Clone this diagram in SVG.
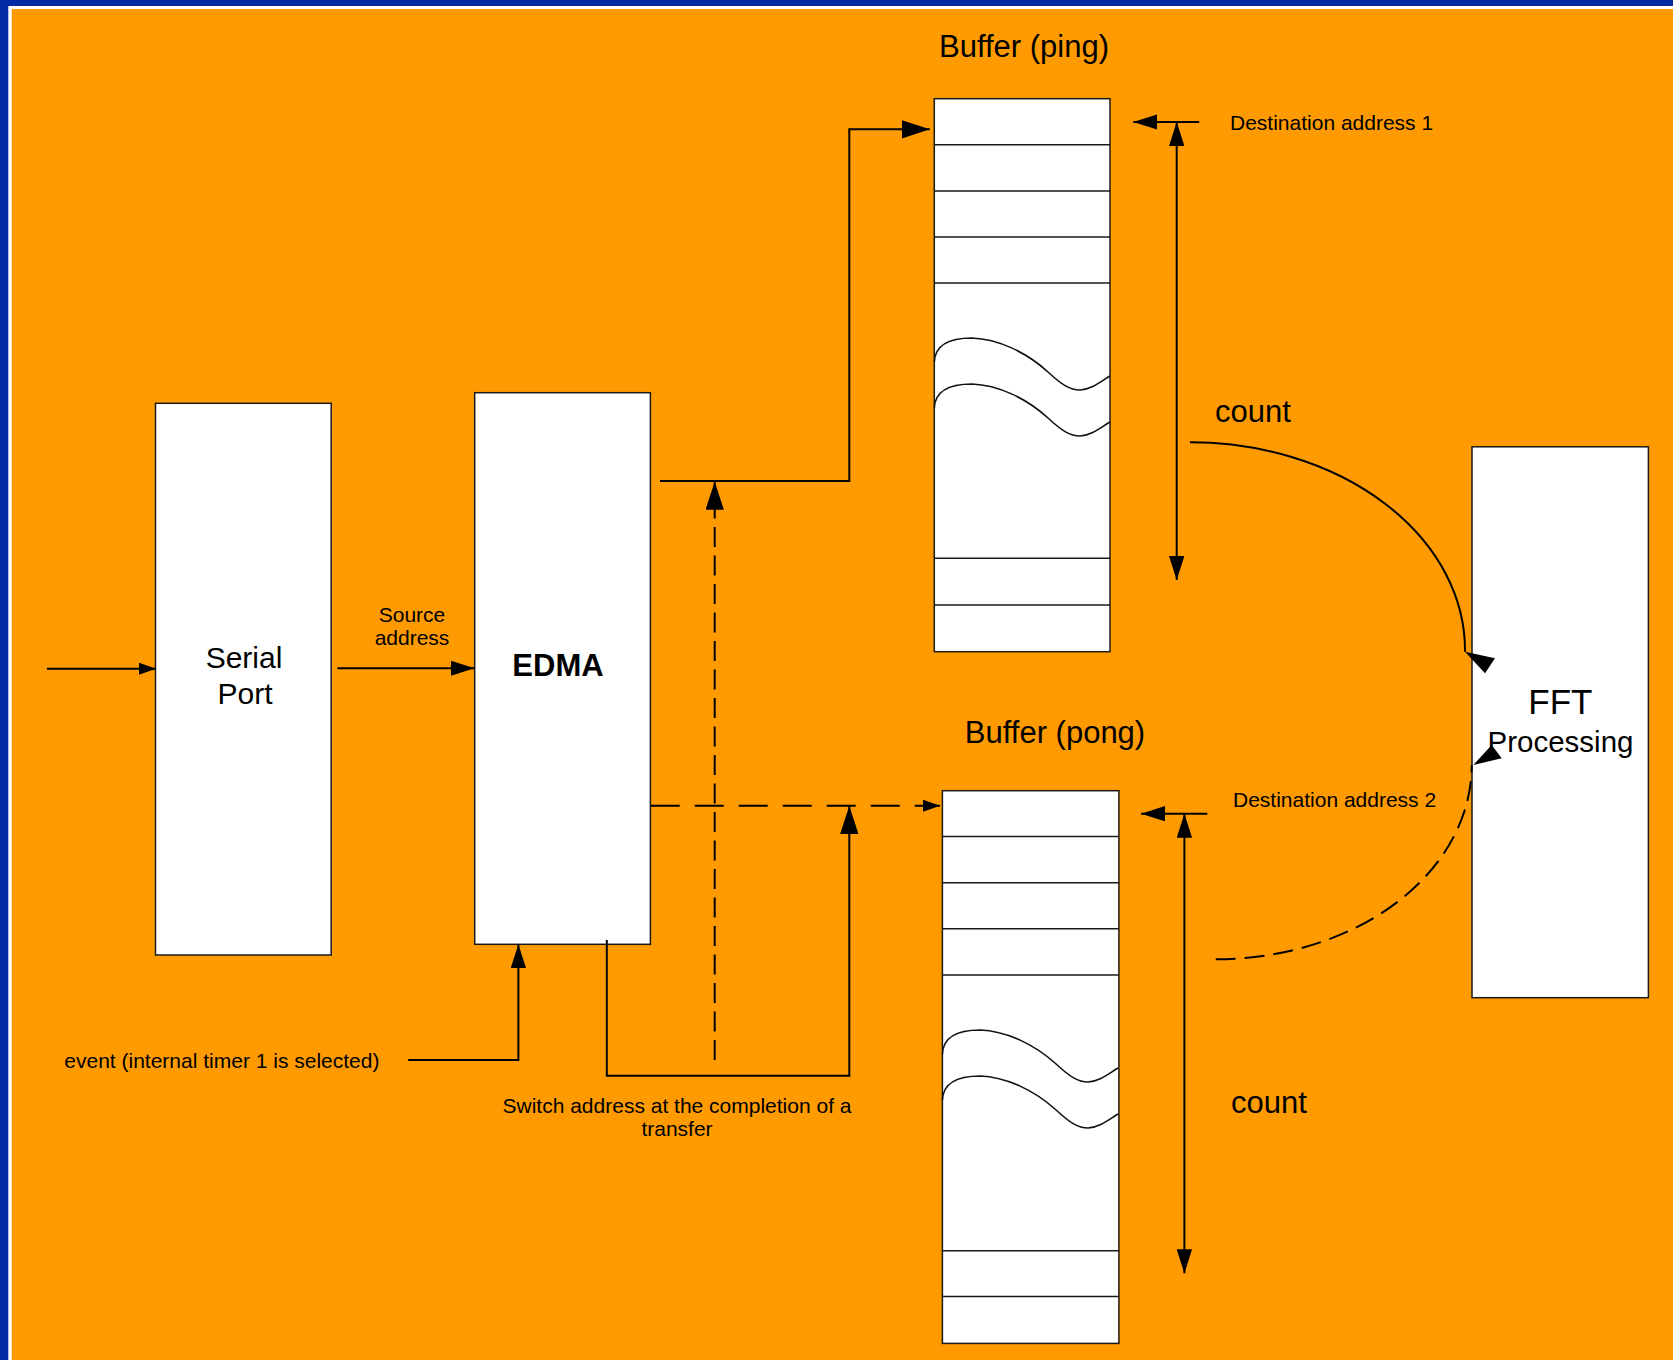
<svg xmlns="http://www.w3.org/2000/svg" width="1673" height="1360" viewBox="0 0 1673 1360">
<style>
.box{fill:#fff;stroke:#1a1a1a;stroke-width:1.5}
.row{stroke:#1a1a1a;stroke-width:1.5;fill:none}
.wave{stroke:#111;stroke-width:1.6;fill:none}
.ln{stroke:#000;stroke-width:2;fill:none}
.dh{stroke:#000;stroke-width:2;fill:none;stroke-dasharray:29 15}
.dv{stroke:#000;stroke-width:2;fill:none;stroke-dasharray:20 8.5}
.dc{stroke:#000;stroke-width:2;fill:none;stroke-dasharray:20 9}
.t{font-family:"Liberation Sans",Arial,sans-serif;fill:#000}
.s21{font-size:21px}
.s30{font-size:30px}
.s31{font-size:31px}
.head{fill:#000;stroke:none}
</style>
<defs>
<marker id="arrS" markerUnits="userSpaceOnUse" markerWidth="17" markerHeight="12" refX="17" refY="6" orient="auto" viewBox="0 0 17 12"><path d="M0,0 L17,6 L0,12 z" fill="#000"/></marker>
<marker id="arrM" markerUnits="userSpaceOnUse" markerWidth="24" markerHeight="15.4" refX="24" refY="7.7" orient="auto-start-reverse" viewBox="0 0 24 15.4"><path d="M0,0 L24,7.7 L0,15.4 z" fill="#000"/></marker>
<marker id="arrL" markerUnits="userSpaceOnUse" markerWidth="28" markerHeight="18.4" refX="28" refY="9.2" orient="auto" viewBox="0 0 28 18.4"><path d="M0,0 L28,9.2 L0,18.4 z" fill="#000"/></marker>
<g id="waves">
<path class="wave" d="M934.3,362 C935,346 948,338 972,338 C998,339 1026,352 1048,372 C1062,385 1070,390 1080,390 C1092,389 1100,382 1110,376"/>
<path class="wave" d="M934.3,408 C935,392 948,384 972,384 C998,385 1026,398 1048,418 C1062,431 1070,436 1080,436 C1092,435 1100,428 1110,422"/>
</g>
</defs>

<g id="background">
<rect x="0" y="0" width="1673" height="1360" fill="#032BA6"/>
<rect x="8.3" y="6" width="1665" height="1354" fill="#ffffff"/>
<rect x="11.7" y="9" width="1662" height="1351" fill="#FF9B00"/>
</g>

<g id="serial-port">
<rect class="box" x="155.5" y="403.3" width="175.7" height="551.7"/>
<text class="t s30" x="244" y="668" text-anchor="middle">Serial</text>
<text class="t s30" x="245" y="704" text-anchor="middle">Port</text>
</g>

<g id="edma">
<rect class="box" x="474.7" y="392.7" width="175.7" height="551.6"/>
<text class="t s31" x="558" y="676" text-anchor="middle" font-weight="bold">EDMA</text>
</g>

<g id="fft">
<rect class="box" x="1472" y="446.8" width="176.4" height="550.9"/>
<text class="t" font-size="35" x="1560.4" y="714" text-anchor="middle">FFT</text>
<text class="t" font-size="29.5" x="1560.5" y="751.7" text-anchor="middle">Processing</text>
</g>

<g id="buffer-ping">
<text class="t s31" x="1024" y="57.3" text-anchor="middle">Buffer (ping)</text>
<rect class="box" x="934.3" y="98.7" width="175.7" height="553"/>
<path class="row" d="M934.3,144.7 H1110 M934.3,191 H1110 M934.3,237 H1110 M934.3,283 H1110 M934.3,558.3 H1110 M934.3,605 H1110"/>
<use href="#waves"/>
</g>

<g id="buffer-pong">
<text class="t s31" x="1055" y="743.3" text-anchor="middle">Buffer (pong)</text>
<rect class="box" x="942.4" y="790.7" width="176.5" height="552.7"/>
<path class="row" d="M942.4,836.5 H1118.9 M942.4,882.8 H1118.9 M942.4,928.8 H1118.9 M942.4,975 H1118.9 M942.4,1250.8 H1118.9 M942.4,1296.6 H1118.9"/>
<use href="#waves" transform="translate(8.1,692)"/>
</g>

<g id="connectors">
<path class="ln" d="M46.9,668.7 H156" marker-end="url(#arrS)"/>
<path class="ln" d="M337.5,668.3 H474.6" marker-end="url(#arrM)"/>
<path class="ln" d="M660,481 H849.3 V129.3 H929.8" marker-end="url(#arrL)"/>
<path class="dv" d="M714.7,1060 V481.7" marker-end="url(#arrL)"/>
<path class="dh" d="M650.7,805.7 H940" marker-end="url(#arrS)"/>
<path class="ln" d="M606.8,940 V1075.7 H849.3 V806" marker-end="url(#arrL)"/>
<path class="ln" d="M408.2,1060 H518.4 V944.3" marker-end="url(#arrM)"/>
<path class="ln" d="M1199.2,122 H1133.3" marker-end="url(#arrM)"/>
<path class="ln" d="M1176.7,580 V122" marker-start="url(#arrM)" marker-end="url(#arrM)"/>
<path class="ln" d="M1207.3,813.7 H1141.1" marker-end="url(#arrM)"/>
<path class="ln" d="M1184.4,1273.3 V813.7" marker-start="url(#arrM)" marker-end="url(#arrM)"/>
<path class="ln" d="M1190,442.3 A275,208 0 0 1 1465,651.7"/>
<polygon class="head" points="1465,651.7 1495,658.3 1485,673.3"/>
<path class="dc" d="M1215.7,959.3 A256,194 0 0 0 1471.7,765.3"/>
<polygon class="head" points="1473.3,765 1501.7,758.3 1491.7,745"/>
</g>

<g id="labels">
<text class="t s21" x="412" y="621.7" text-anchor="middle">Source</text>
<text class="t s21" x="412" y="645" text-anchor="middle">address</text>
<text class="t s21" x="64.3" y="1068">event (internal timer 1 is selected)</text>
<text class="t s21" x="677" y="1112.7" text-anchor="middle">Switch address at the completion of a</text>
<text class="t s21" x="677" y="1136" text-anchor="middle">transfer</text>
<text class="t s21" x="1230" y="130">Destination address 1</text>
<text class="t s21" x="1233" y="807.3">Destination address 2</text>
<text class="t s31" x="1215" y="421.7">count</text>
<text class="t s31" x="1231" y="1113.3">count</text>
</g>
</svg>
